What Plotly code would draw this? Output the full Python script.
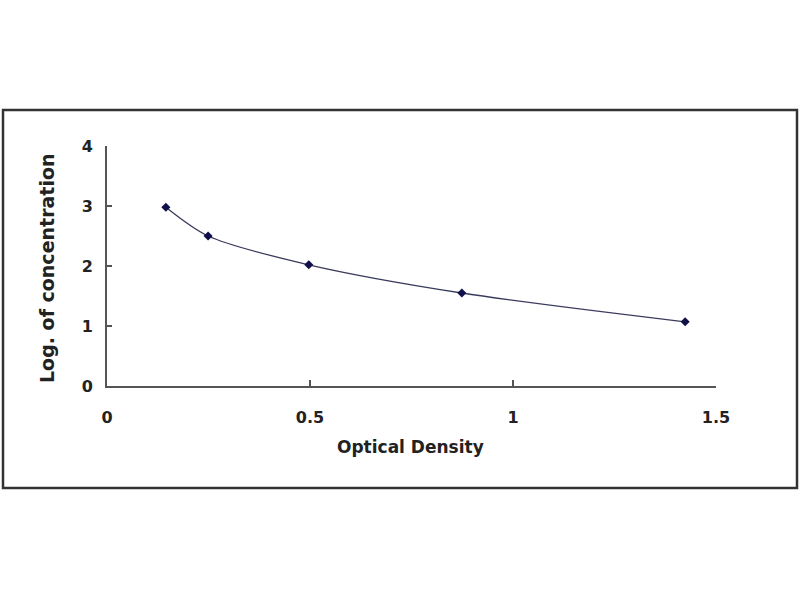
import plotly.graph_objects as go

# standard curve points
optical_density = [0.145, 0.249, 0.497, 0.874, 1.424]
log_conc = [2.98, 2.50, 2.02, 1.55, 1.07]

x_ticks = [0, 0.5, 1, 1.5]
x_tick_text = ["0", "0.5", "1", "1.5"]
y_ticks = [0, 1, 2, 3, 4]

fnt = "DejaVu Sans, Arial, sans-serif"

# plot area in page pixels
px0, px1, py0, py1 = 107, 716, 146, 386
pw, ph = px1 - px0, py1 - py0


def xp(px):
    return (px - px0) / pw


def yp(py):
    return (py1 - py) / ph


fig = go.Figure()
fig.add_trace(go.Scatter(
    x=optical_density, y=log_conc,
    mode="lines+markers",
    line=dict(color="#3a3a5c", width=1.3, shape="spline", smoothing=0.8),
    marker=dict(symbol="diamond", size=7, color="#10104a"),
    showlegend=False,
))

fig.update_layout(
    width=800, height=600,
    paper_bgcolor="white", plot_bgcolor="white",
    margin=dict(l=px0, r=800 - px1, t=py0, b=600 - py1),
    font=dict(family=fnt, size=15, color="#222"),
)
fig.update_xaxes(
    range=[0, 1.5], tickvals=x_ticks, ticktext=x_tick_text,
    showgrid=False, zeroline=False,
    showline=True, linecolor="#555", linewidth=2,
    ticks="inside", ticklen=6, tickwidth=2, tickcolor="#555",
    tickfont=dict(family=fnt, size=16, color="#222", weight="bold"),
    ticklabelstandoff=16,
)
fig.update_yaxes(
    range=[0, 4], tickvals=y_ticks,
    showgrid=False, zeroline=False,
    showline=True, linecolor="#555", linewidth=2,
    ticks="inside", ticklen=5, tickwidth=2, tickcolor="#555",
    tickfont=dict(family=fnt, size=16, color="#222", weight="bold"),
    ticklabelstandoff=9,
)

# axis titles
fig.add_annotation(text="Optical Density", xref="paper", yref="paper",
                   x=xp(410), y=yp(447),
                   showarrow=False, xanchor="center", yanchor="middle",
                   font=dict(family=fnt, size=17, color="#222", weight="bold"))
fig.add_annotation(text="Log. of concentration", xref="paper", yref="paper",
                   x=xp(47), y=yp(268), textangle=-90,
                   showarrow=False, xanchor="center", yanchor="middle",
                   font=dict(family=fnt, size=19, color="#222", weight="bold"))

# outer frame
fig.add_shape(type="rect", xref="paper", yref="paper",
              x0=xp(3), x1=xp(797), y0=yp(488), y1=yp(110),
              line=dict(color="#333", width=2.5), fillcolor="rgba(0,0,0,0)")

# drop the default page margin so the figure sits at the window corner
fig.write_html("out.html", config={"displayModeBar": False},
               post_script="document.body.style.margin='0';")
